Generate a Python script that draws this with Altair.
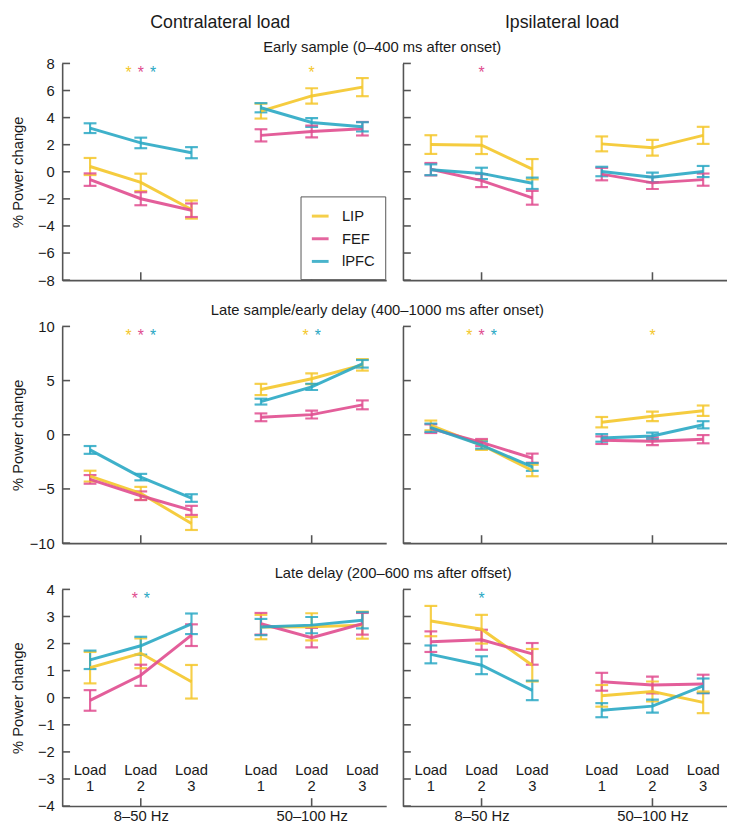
import altair as alt
import pandas as pd

FONT = "Liberation Sans"

AREAS = ["LIP", "FEF", "lPFC"]
AREA_COLORS = ["#F4C72A", "#E04C8F", "#2AA8C4"]
BANDS = ["8–50 Hz", "50–100 Hz"]
LOADS = [1, 2, 3]
SIDES = ["Contralateral load", "Ipsilateral load"]
EPOCHS = [
    "Early sample (0–400 ms after onset)",
    "Late sample/early delay (400–1000 ms after onset)",
    "Late delay (200–600 ms after offset)",
]
Y_TICKS = [
    [-8, -6, -4, -2, 0, 2, 4, 6, 8],
    [-10, -5, 0, 5, 10],
    [-4, -3, -2, -1, 0, 1, 2, 3, 4],
]

# % power change per area: [8–50 Hz load 1, 2, 3, 50–100 Hz load 1, 2, 3]
early_contra = {
    "LIP": [0.39, -0.78, -2.79, 4.48, 5.60, 6.25],
    "FEF": [-0.58, -1.99, -2.84, 2.69, 2.98, 3.18],
    "lPFC": [3.22, 2.13, 1.41, 4.73, 3.64, 3.32],
}
early_contra_err = {
    "LIP": [0.63, 0.64, 0.67, 0.55, 0.57, 0.67],
    "FEF": [0.46, 0.48, 0.50, 0.45, 0.44, 0.50],
    "lPFC": [0.36, 0.39, 0.41, 0.34, 0.32, 0.34],
}
early_ipsi = {
    "LIP": [2.01, 1.96, 0.19, 2.06, 1.77, 2.69],
    "FEF": [0.19, -0.65, -1.92, -0.17, -0.82, -0.58],
    "lPFC": [0.15, -0.12, -0.85, 0.02, -0.41, 0.02],
}
early_ipsi_err = {
    "LIP": [0.69, 0.65, 0.75, 0.55, 0.58, 0.63],
    "FEF": [0.46, 0.48, 0.51, 0.46, 0.45, 0.45],
    "lPFC": [0.40, 0.42, 0.42, 0.35, 0.35, 0.41],
}
late_sample_contra = {
    "LIP": [-3.82, -5.41, -8.19, 4.18, 5.17, 6.45],
    "FEF": [-4.12, -5.63, -6.98, 1.61, 1.86, 2.76],
    "lPFC": [-1.40, -3.91, -5.84, 3.06, 4.42, 6.55],
}
late_sample_contra_err = {
    "LIP": [0.50, 0.60, 0.60, 0.52, 0.50, 0.53],
    "FEF": [0.40, 0.40, 0.42, 0.36, 0.36, 0.41],
    "lPFC": [0.36, 0.30, 0.35, 0.27, 0.29, 0.35],
}
late_sample_ipsi = {
    "LIP": [0.86, -0.95, -3.30, 1.16, 1.70, 2.22],
    "FEF": [0.56, -0.71, -2.16, -0.50, -0.59, -0.41],
    "lPFC": [0.65, -0.95, -2.97, -0.29, -0.11, 0.92],
}
late_sample_ipsi_err = {
    "LIP": [0.45, 0.45, 0.53, 0.48, 0.44, 0.48],
    "FEF": [0.40, 0.32, 0.42, 0.35, 0.36, 0.38],
    "lPFC": [0.38, 0.33, 0.36, 0.35, 0.30, 0.33],
}
late_delay_contra = {
    "LIP": [1.11, 1.64, 0.59, 2.61, 2.62, 2.68],
    "FEF": [-0.10, 0.83, 2.31, 2.73, 2.22, 2.73],
    "lPFC": [1.40, 1.92, 2.73, 2.61, 2.68, 2.86],
}
late_delay_contra_err = {
    "LIP": [0.58, 0.55, 0.62, 0.45, 0.50, 0.50],
    "FEF": [0.38, 0.39, 0.40, 0.40, 0.36, 0.40],
    "lPFC": [0.34, 0.33, 0.38, 0.30, 0.30, 0.30],
}
late_delay_ipsi = {
    "LIP": [2.83, 2.53, 1.20, 0.07, 0.23, -0.17],
    "FEF": [2.07, 2.14, 1.62, 0.59, 0.47, 0.51],
    "lPFC": [1.60, 1.20, 0.27, -0.46, -0.31, 0.44],
}
late_delay_ipsi_err = {
    "LIP": [0.56, 0.53, 0.60, 0.40, 0.37, 0.40],
    "FEF": [0.38, 0.37, 0.40, 0.33, 0.31, 0.34],
    "lPFC": [0.33, 0.33, 0.36, 0.26, 0.24, 0.27],
}

# significant areas (asterisks) per band: [8–50 Hz, 50–100 Hz]
sig_early_contra = [["LIP", "FEF", "lPFC"], ["LIP"]]
sig_early_ipsi = [["FEF"], []]
sig_late_sample_contra = [["LIP", "FEF", "lPFC"], ["LIP", "lPFC"]]
sig_late_sample_ipsi = [["LIP", "FEF", "lPFC"], ["LIP"]]
sig_late_delay_contra = [["FEF", "lPFC"], []]
sig_late_delay_ipsi = [["lPFC"], []]

MEANS = [[early_contra, early_ipsi], [late_sample_contra, late_sample_ipsi],
         [late_delay_contra, late_delay_ipsi]]
ERRS = [[early_contra_err, early_ipsi_err], [late_sample_contra_err, late_sample_ipsi_err],
        [late_delay_contra_err, late_delay_ipsi_err]]
SIGS = [[sig_early_contra, sig_early_ipsi], [sig_late_sample_contra, sig_late_sample_ipsi],
        [sig_late_delay_contra, sig_late_delay_ipsi]]

# ---- layout ----
PANEL_W, PANEL_H = 329, 220
GAP_X, GAP_Y, GAP_HEAD = 16, 15, 8
GROUP_SHIFT = 3.37
X_DOMAIN = [0.45, 6.84]
STAR_PX = 9.5
STAR_STEP = 0.24
LOAD_LABEL_PX = 37
ROW_TITLE_DX = [325, 320, 336]
ROW_TITLE_OFFSET = 2
HEADER_X = [160.5, 162.5]
AXIS_COLOR = "#555"
TEXT_COLOR = "#1a1a1a"


def panel(r, c):
    means, errs, sigs = MEANS[r][c], ERRS[r][c], SIGS[r][c]
    recs = []
    for a in AREAS:
        for i, v in enumerate(means[a]):
            b = i // 3
            recs.append(dict(area=a, band=BANDS[b], x=LOADS[i % 3] + b * GROUP_SHIFT,
                             mean=v, lo=v - errs[a][i], hi=v + errs[a][i]))
    df = pd.DataFrame(recs)
    ymin, ymax = Y_TICKS[r][0], Y_TICKS[r][-1]
    per_px = (ymax - ymin) / PANEL_H

    xaxis = dict(values=[2, 2 + GROUP_SHIFT], ticks=False, labels=(r == 2),
                 labelExpr=f"datum.value < 3 ? '{BANDS[0]}' : '{BANDS[1]}'",
                 title=None, grid=False, labelPadding=3)
    if r < 2:
        xaxis.update(minExtent=0, maxExtent=0)
    yaxis = dict(values=Y_TICKS[r], ticks=False, labels=(c == 0), grid=False,
                 labelPadding=8, titlePadding=4)
    if c == 0:
        yaxis.update(title="% Power change", minExtent=33, maxExtent=33)
    else:
        yaxis.update(title=None, minExtent=0, maxExtent=0)

    def X(f):
        return alt.X(f"{f}:Q", scale=alt.Scale(domain=X_DOMAIN, nice=False, zero=False),
                     axis=alt.Axis(**xaxis))

    def Y(f):
        return alt.Y(f"{f}:Q", scale=alt.Scale(domain=[ymin, ymax], nice=False, zero=False),
                     axis=alt.Axis(**yaxis))

    if r == 0 and c == 0:
        legend = alt.Legend(orient="none", legendX=242, legendY=185, title=None,
                            symbolType="stroke", symbolSize=289, symbolStrokeWidth=3,
                            labelFontSize=15, labelFont=FONT, labelOffset=12,
                            padding=10, rowPadding=5, strokeColor="#555",
                            fillColor="white", labelColor=TEXT_COLOR)
    else:
        legend = None
    color = alt.Color("area:N", scale=alt.Scale(domain=AREAS, range=AREA_COLORS), legend=legend)

    yt = alt.Chart(pd.DataFrame({"v": Y_TICKS[r]})).mark_rule(
        color=AXIS_COLOR, strokeWidth=1.6).encode(x=alt.value(0), x2=alt.value(8), y=Y("v"))
    xt = alt.Chart(pd.DataFrame({"t": [2, 2 + GROUP_SHIFT]})).mark_rule(
        color=AXIS_COLOR, strokeWidth=1.6).encode(x=X("t"), y=alt.value(PANEL_H),
                                                  y2=alt.value(PANEL_H - 8))
    base = alt.Chart(df)
    bars = base.mark_rule(strokeWidth=2.2, opacity=0.85).encode(
        x=X("x"), y=Y("lo"), y2="hi", color=color)
    cap_lo = base.mark_tick(orient="horizontal", size=13, thickness=2.2, opacity=0.85).encode(
        x=X("x"), y=Y("lo"), color=color)
    cap_hi = base.mark_tick(orient="horizontal", size=13, thickness=2.2, opacity=0.85).encode(
        x=X("x"), y=Y("hi"), color=color)
    lines = base.mark_line(strokeWidth=3, opacity=0.9).encode(
        x=X("x"), y=Y("mean"), color=color, detail="band:N")

    srecs = []
    for b, lst in enumerate(sigs):
        n = len(lst)
        for j, a in enumerate(lst):
            srecs.append(dict(area=a, x=2 + b * GROUP_SHIFT + (j - (n - 1) / 2) * STAR_STEP,
                              y=ymax - STAR_PX * per_px))
    layers = [yt, xt, bars, cap_lo, cap_hi, lines]
    if srecs:
        stars = alt.Chart(pd.DataFrame(srecs)).mark_text(
            text="*", fontSize=16, font=FONT, baseline="middle").encode(
            x=X("x"), y=Y("y"), color=color)
        layers.append(stars)
    if r == 2:
        lrecs = []
        for b in range(2):
            for ld in LOADS:
                lrecs.append(dict(x=ld + b * GROUP_SHIFT, y=ymin + LOAD_LABEL_PX * per_px,
                                  label=f"Load\n{ld}"))
        loads = alt.Chart(pd.DataFrame(lrecs)).mark_text(
            fontSize=15, font=FONT, lineBreak="\n", lineHeight=17, baseline="middle",
            color=TEXT_COLOR).encode(x=X("x"), y=Y("y"), text="label:N")
        layers.append(loads)

    return alt.layer(*layers).properties(width=PANEL_W, height=PANEL_H)


def header(c):
    return alt.Chart(pd.DataFrame({"t": [SIDES[c]]})).mark_text(
        fontSize=18, font=FONT, baseline="top", align="center", color=TEXT_COLOR
    ).encode(text="t:N", x=alt.value(HEADER_X[c]), y=alt.value(0)).properties(
        width=PANEL_W, height=18)


def row(r):
    return alt.hconcat(
        panel(r, 0), panel(r, 1), spacing=GAP_X,
        title=alt.TitleParams(EPOCHS[r], fontSize=15, anchor="middle", frame="group",
                              offset=ROW_TITLE_OFFSET, dx=ROW_TITLE_DX[r]))


top = alt.vconcat(alt.hconcat(header(0), header(1), spacing=GAP_X), row(0),
                  spacing=GAP_HEAD)

chart = alt.vconcat(top, row(1), row(2), spacing=GAP_Y).properties(
    padding={"left": 3, "top": 0, "right": 0, "bottom": 0}
).configure_view(stroke=None).configure_axis(
    domainColor=AXIS_COLOR, domainWidth=1.6, labelFont=FONT, labelFontSize=15,
    labelColor=TEXT_COLOR, titleFont=FONT, titleFontSize=15, titleFontWeight="normal",
    titleColor=TEXT_COLOR, grid=False
).configure_title(font=FONT, fontWeight="normal", color=TEXT_COLOR)

chart.save("out.html", embed_options={"renderer": "svg", "actions": False})
